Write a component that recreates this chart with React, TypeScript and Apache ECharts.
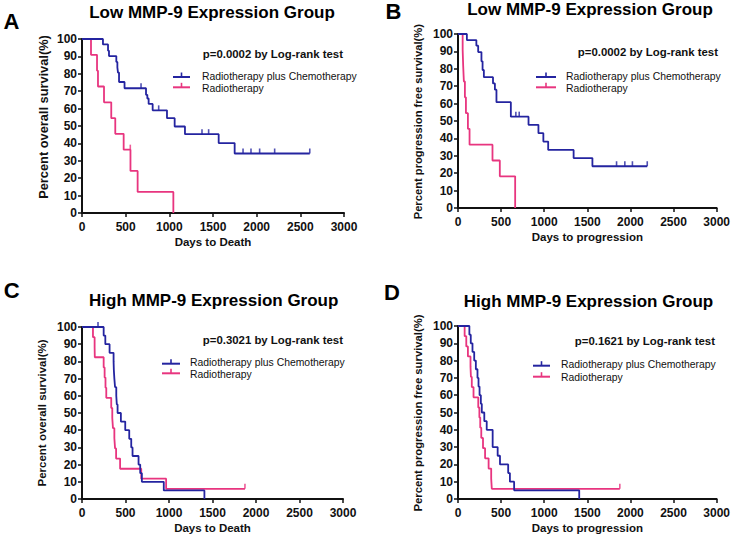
import React, { useEffect, useRef } from 'react';
import * as echarts from 'echarts';

// ---------- DATA ----------
const SERIES_NAMES = ['Radiotherapy plus Chemotherapy', 'Radiotherapy'];
const TITLES = ['Low MMP-9 Expression Group', 'Low MMP-9 Expression Group', 'High MMP-9 Expression Group', 'High MMP-9 Expression Group'];
const LETTERS = ['A', 'B', 'C', 'D'];
const P_TEXTS = ['p=0.0002 by Log-rank test', 'p=0.0002 by Log-rank test', 'p=0.3021 by Log-rank test', 'p=0.1621 by Log-rank test'];
const Y_NAMES = ['Percent overall survival(%)', 'Percent progression free survival(%)', 'Percent overall survival(%)', 'Percent progression free survival(%)'];
const X_NAMES = ['Days to Death', 'Days to progression', 'Days to Death', 'Days to progression'];
const X_RANGE = [0, 3000, 500];
const Y_RANGE = [0, 100, 10];

// Panel A: overall survival, low MMP-9
const aChemo = [[0, 100], [240, 96.9], [298, 93.3], [309, 90.2], [393, 86.8], [405, 83.7], [412, 80.7], [424, 75.3], [487, 71.7], [733, 67.9], [748, 65.8], [763, 62.7], [809, 59], [973, 54.5], [1061, 49.7], [1179, 45.3], [1565, 40.2], [1748, 34.2], [2608, 34.2]];
const aChemoCens = [[676, 71.7], [878, 59], [1374, 45.3], [1450, 45.3], [1844, 34.2], [1935, 34.2], [2034, 34.2], [2206, 34.2], [2608, 34.2]];
const aRadio = [[0, 100], [103, 90.9], [172, 81.8], [183, 72.7], [252, 63.6], [335, 54.5], [381, 45.5], [477, 36.4], [555, 24.2], [637, 12.1], [1046, 0]];
const aRadioCens = [[553, 36.4]];

// Panel B: progression free survival, low MMP-9
const bChemo = [[0, 100], [103, 96.5], [213, 93.3], [234, 89.6], [272, 84.3], [285, 79.3], [300, 75.2], [406, 71.6], [428, 68], [446, 60.8], [613, 52.5], [818, 47.8], [933, 43], [990, 38.2], [1046, 33.4], [1341, 28.7], [1559, 24], [2195, 24]];
const bChemoCens = [[671, 52.5], [710, 52.5], [1839, 24], [1935, 24], [2023, 24], [2195, 24]];
const bRadio = [[0, 100], [54, 90.9], [60, 81.8], [68, 72.7], [80, 63.6], [92, 54.5], [115, 45.5], [134, 36.4], [400, 27.3], [485, 18.2], [663, 0]];
const bRadioCens: number[][] = [];

// Panel C: overall survival, high MMP-9
const cChemo = [[0, 100], [249, 95], [268, 90], [317, 85], [363, 80], [366, 75], [372, 70], [380, 65], [394, 60], [400, 55], [409, 50], [447, 45], [497, 40], [543, 35], [566, 30], [581, 25], [650, 20], [669, 15], [688, 10], [940, 5], [1407, 0]];
const cChemoCens = [[184, 100]];
const cRadio = [[0, 100], [126, 94.1], [145, 88.2], [147, 82.4], [249, 76.5], [260, 70.6], [270, 64.7], [279, 58.8], [336, 52.9], [348, 47.1], [356, 41.2], [372, 35.3], [380, 29.4], [392, 23.5], [438, 17.6], [681, 11.8], [967, 5.9], [1873, 5.9]];
const cRadioCens = [[1873, 5.9]];

// Panel D: progression free survival, high MMP-9
const dChemo = [[0, 100], [132, 95], [148, 90], [168, 85], [188, 80], [207, 75], [226, 70], [238, 65], [250, 60], [265, 55], [276, 50], [305, 45], [333, 40], [402, 30], [460, 25], [487, 20], [582, 15], [602, 10], [651, 5], [1406, 0]];
const dChemoCens: number[][] = [];
const dRadio = [[0, 100], [77, 94.1], [96, 88.2], [115, 82.4], [145, 76.5], [150, 70.6], [160, 64.7], [180, 58.8], [235, 52.9], [248, 47.1], [258, 41.2], [270, 35.3], [290, 29.4], [314, 23.5], [355, 17.6], [385, 11.8], [392, 5.9], [1877, 5.9]];
const dRadioCens = [[1877, 5.9]];

const CURVES = [
  [aChemo, aRadio], [bChemo, bRadio], [cChemo, cRadio], [dChemo, dRadio],
];
const CENSORS = [
  [aChemoCens, aRadioCens], [bChemoCens, bRadioCens], [cChemoCens, cRadioCens], [dChemoCens, dRadioCens],
];

// ---------- LAYOUT / STYLE ----------
const FONT = 'Arial, "Liberation Sans", Helvetica, sans-serif';
const COLORS = ['#2424a0', '#e8357f'];
const LAYOUT = [
  { grid: { left: 82, top: 39, width: 262, height: 174 }, title: [212, 12], letter: [11.5, 21], p: [343, 54], leg: [173, 190, 77, 87.3, 202], yName: [43, 117, 12.8] },
  { grid: { left: 458, top: 34, width: 261, height: 174 }, title: [590, 9.5], letter: [393.5, 11], p: [718, 52], leg: [536, 556, 77, 87.3, 566], yName: [417.7, 121.7, 11.2] },
  { grid: { left: 82, top: 327, width: 261, height: 172 }, title: [213.7, 300], letter: [11.7, 290], p: [343, 339.7], leg: [162, 180, 363.7, 373.3, 190], yName: [41.7, 413, 11.5] },
  { grid: { left: 458, top: 326, width: 261, height: 173 }, title: [588.5, 301.3], letter: [392, 292], p: [715, 340.7], leg: [533, 550, 365.7, 376.7, 561], yName: [417.7, 413, 11.3] },
];

function buildOption() {
  const grids: any[] = [];
  const xAxes: any[] = [];
  const yAxes: any[] = [];
  const series: any[] = [];
  const graphics: any[] = [];
  const plain = (v: number) => String(v);

  LAYOUT.forEach((L, i) => {
    grids.push({ ...L.grid, containLabel: false });
    xAxes.push({
      type: 'value', gridIndex: i, min: X_RANGE[0], max: X_RANGE[1], interval: X_RANGE[2],
      name: X_NAMES[i], nameLocation: 'middle', nameGap: 23,
      nameTextStyle: { fontFamily: FONT, fontWeight: 'bold', fontSize: 11.5, color: '#111', verticalAlign: 'top' },
      axisLine: { show: true, onZero: false, lineStyle: { color: '#111', width: 2 } },
      axisTick: { show: true, length: 4, lineStyle: { color: '#111', width: 1.5 } },
      axisLabel: { margin: 8, fontFamily: FONT, fontWeight: 'bold', fontSize: 12, color: '#111', formatter: plain },
      splitLine: { show: false },
    });
    yAxes.push({
      type: 'value', gridIndex: i, min: Y_RANGE[0], max: Y_RANGE[1], interval: Y_RANGE[2],
      axisLine: { show: true, onZero: false, lineStyle: { color: '#111', width: 2 } },
      axisTick: { show: true, length: 4, lineStyle: { color: '#111', width: 1.5 } },
      axisLabel: { margin: 5, fontFamily: FONT, fontWeight: 'bold', fontSize: 12, color: '#111', formatter: plain },
      splitLine: { show: false },
    });

    CURVES[i].forEach((curve, k) => {
      series.push({
        type: 'line', name: SERIES_NAMES[k], xAxisIndex: i, yAxisIndex: i,
        data: curve, step: 'end', showSymbol: false, symbol: 'none', clip: false,
        lineStyle: { color: COLORS[k], width: 1.8 }, z: k === 0 ? 3 : 2,
      });
      series.push({
        type: 'scatter', name: SERIES_NAMES[k], xAxisIndex: i, yAxisIndex: i,
        data: CENSORS[i][k], symbol: 'rect', symbolSize: [1.6, 5], symbolOffset: [0, -2.5], clip: false,
        itemStyle: { color: COLORS[k] }, z: 4,
      });
    });

    // texts
    graphics.push({
      type: 'text', x: L.title[0], y: L.title[1],
      style: { text: TITLES[i], font: `bold 17px ${FONT}`, fill: '#000', align: 'center', verticalAlign: 'middle' },
    });
    graphics.push({
      type: 'text', x: L.letter[0], y: L.letter[1],
      style: { text: LETTERS[i], font: `bold 22px ${FONT}`, fill: '#000', align: 'center', verticalAlign: 'middle' },
    });
    graphics.push({
      type: 'text', x: L.p[0], y: L.p[1],
      style: { text: P_TEXTS[i], font: `bold 11.4px ${FONT}`, fill: '#111', align: 'right', verticalAlign: 'middle' },
    });
    graphics.push({
      type: 'text', x: L.yName[0], y: L.yName[1], rotation: Math.PI / 2,
      style: { text: Y_NAMES[i], font: `bold ${L.yName[2]}px ${FONT}`, fill: '#111', align: 'center', verticalAlign: 'middle' },
    });
    // legend
    const [x1, x2, yb, yp, tx] = L.leg;
    [yb, yp].forEach((yy, k) => {
      const mid = (x1 + x2) / 2;
      graphics.push({ type: 'line', shape: { x1, y1: yy, x2, y2: yy }, style: { stroke: COLORS[k], lineWidth: 2 } });
      graphics.push({ type: 'line', shape: { x1: mid, y1: yy - 4.5, x2: mid, y2: yy }, style: { stroke: COLORS[k], lineWidth: 1.6 } });
      graphics.push({
        type: 'text', x: tx, y: yy + (k === 0 ? -1 : 1),
        style: { text: SERIES_NAMES[k], font: `10.4px ${FONT}`, fill: '#111', align: 'left', verticalAlign: 'middle' },
      });
    });
  });

  return {
    animation: false,
    backgroundColor: '#ffffff',
    grid: grids,
    xAxis: xAxes,
    yAxis: yAxes,
    series,
    graphic: graphics,
  };
}

export default function App() {
  const ref = useRef<HTMLDivElement>(null);
  useEffect(() => {
    if (!ref.current) return;
    const chart = echarts.init(ref.current, undefined, { renderer: 'svg' });
    chart.setOption(buildOption() as any);
    return () => chart.dispose();
  }, []);
  return <div ref={ref} style={{ position: 'fixed', left: 0, top: 0, width: 733, height: 538, background: '#fff' }} />;
}
